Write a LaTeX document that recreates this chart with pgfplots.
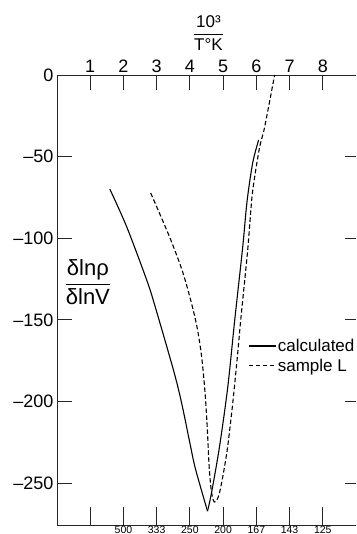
\documentclass[border=0pt]{standalone}
\usepackage{fontspec}
\setmainfont{Liberation Sans}
\usepackage{pgfplots}
\pgfplotsset{compat=1.18}

\pgfplotstableread{
x y
1.59 -69.9
2.10 -93.1
2.70 -125.6
2.94 -140.9
3.48 -178.9
3.69 -195.5
3.84 -209.5
4.00 -225.5
4.17 -241.5
4.53 -267.2
}\calcleft
\pgfplotstableread{
x y
4.53 -267.2
4.65 -256.1
4.89 -227.9
5.14 -191.2
5.35 -150.1
5.59 -105.4
5.72 -77.5
5.89 -53.9
6.07 -39.8
}\calcright
\pgfplotstableread{
x y
2.82 -72.3
3.39 -99.3
3.78 -120.5
4.05 -140.0
4.22 -155.0
4.35 -172.0
4.45 -193.0
4.52 -215.0
4.58 -240.0
4.65 -255.5
4.74 -261.6
4.89 -256.1
5.11 -231.6
5.29 -201.0
5.44 -170.3
5.53 -150.1
5.74 -107.2
5.86 -76.6
5.95 -62.5
6.10 -44.1
6.25 -31.9
6.55 0
}\sampleL

\begin{document}
\begin{tikzpicture}[font=\fontsize{17}{20}\selectfont]
\pgfplotsset{
  base/.style={scale only axis, width=299pt, height=450pt,
    xmin=0, xmax=9, ymin=-275.7, ymax=0,
    at={(0,0)}, anchor=south west,
    axis line style={draw=none},
    tick align=inside,
    tick style={black!85, line width=0.8pt},
    clip=false}
}
% main axis: data, top x ticks, left y ticks
\begin{axis}[base,
  xtick={1,2,3,4,5,6,7,8}, xticklabels={1,2,3,4,5,6,7,8},
  xtick pos=top, xticklabel pos=top,
  ytick={-250,-200,-150,-100,-50,0},
  yticklabels={–250,–200,–150,–100,–50,0},
  ytick pos=left,
  major tick length=15pt,
  tick label style={font=\fontsize{18}{20}\selectfont},
  xticklabel style={yshift=-1pt},
  legend style={at={(axis description cs:0.639,0.417)}, anchor=north west,
    draw=none, fill=none, inner sep=0pt, row sep=3pt,
    nodes={inner sep=1.5pt, font=\fontsize{17}{20}\selectfont}},
  legend cell align=left,
  legend image code/.code={\draw[#1] (0pt,0pt) -- (27pt,0pt);},
]
\draw[black!85, line width=0.8pt] (rel axis cs:0,0) -- (rel axis cs:0,1) -- (rel axis cs:1,1);
\draw[black!85, line width=0.8pt] (rel axis cs:0,0) -- (rel axis cs:1,0);
\addplot[black, line width=1.1pt, smooth, tension=0.5] table[x=x,y=y] {\calcleft};
\addlegendentry{calculated}
\addplot[black, line width=1.1pt, smooth, tension=0.5, forget plot] table[x=x,y=y] {\calcright};
\addplot[black, line width=1.1pt, smooth, tension=0.5, dash pattern=on 4.5pt off 2.5pt] table[x=x,y=y] {\sampleL};
\addlegendentry{sample L}
\node at (axis cs:0.93,-126.8) {\fontsize{22}{24}\selectfont$\displaystyle{\hbox{δlnρ}\above1.2pt\hbox{δlnV}}$};
\node at (axis cs:4.56,0) [yshift=42pt] {\fontsize{17}{19}\selectfont$\displaystyle{\hbox{10³}\above1.2pt\hbox{T°K}}$};
\end{axis}
% bottom axis
\begin{axis}[base,
  xtick={1,2,3,4,5,6,7,8}, xticklabels={{},500,333,250,200,167,143,125},
  xtick pos=bottom, xticklabel pos=bottom,
  ytick=\empty,
  major tick length=18pt,
  tick label style={font=\fontsize{10.5}{11}\selectfont, inner sep=0pt},
  xticklabel style={anchor=north, yshift=-0.8pt},
]
\end{axis}
% right axis
\begin{axis}[base,
  xtick=\empty,
  ytick={-250,-200,-150,-100,-50}, ytick pos=right, yticklabels={},
  major tick length=11pt,
]
\end{axis}
\pgfresetboundingbox
\useasboundingbox (-57pt,-9pt) rectangle (299pt,525pt);
\end{tikzpicture}
\end{document}
